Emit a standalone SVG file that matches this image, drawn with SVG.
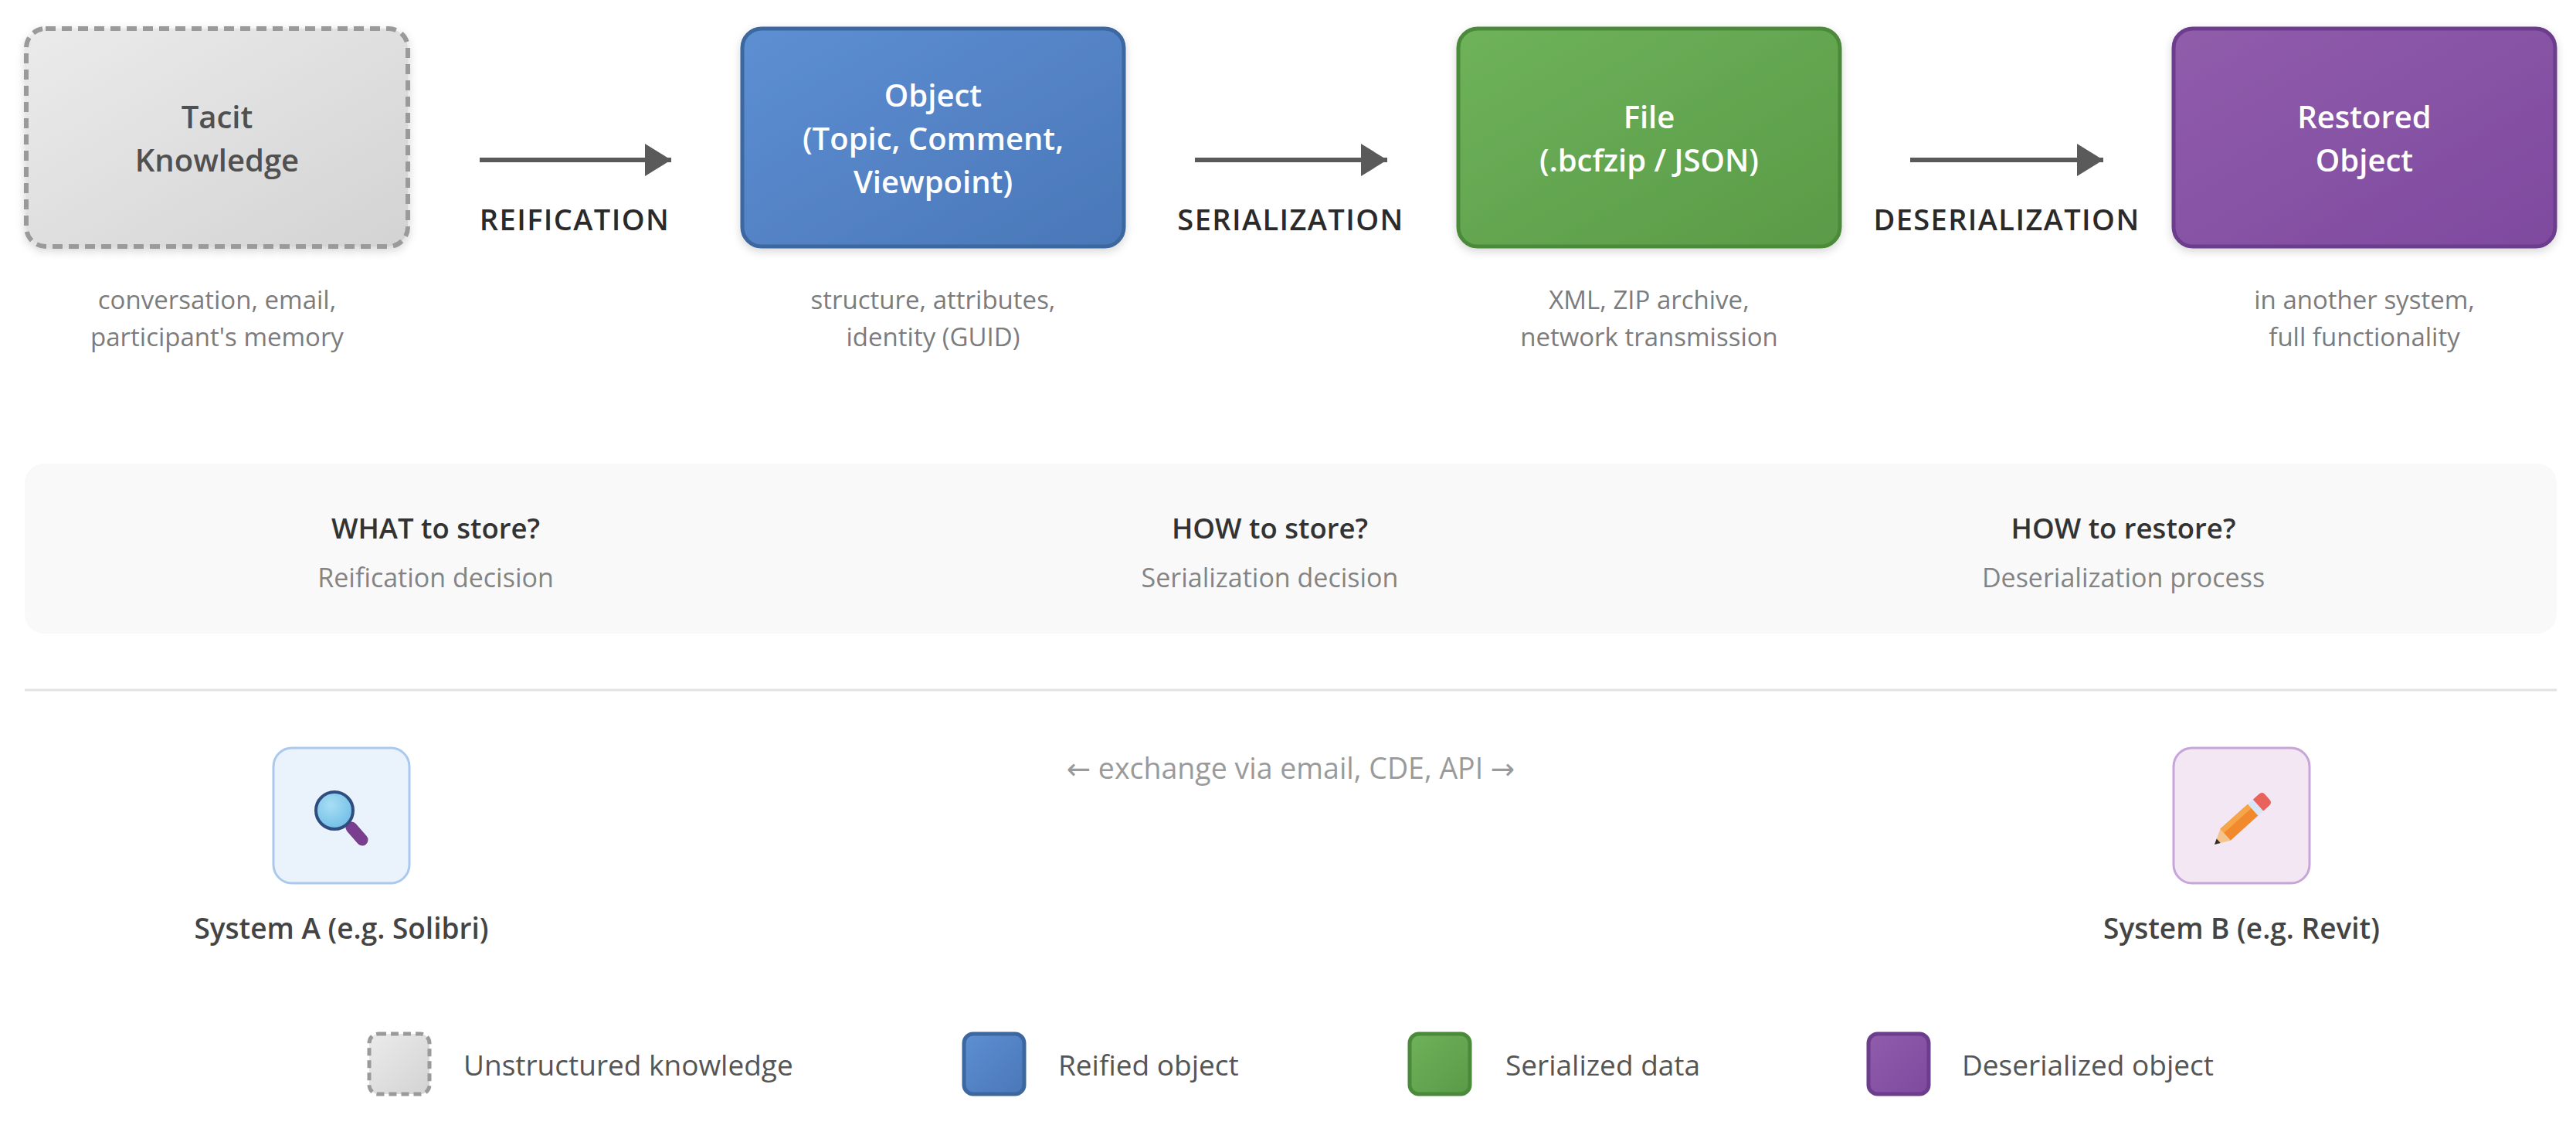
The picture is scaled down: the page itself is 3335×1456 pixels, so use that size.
<svg xmlns="http://www.w3.org/2000/svg" width="3335" height="1456" viewBox="0 0 3335 1456">
<defs>
  <linearGradient id="gGray" x1="0" y1="0" x2="1" y2="1">
    <stop offset="0" stop-color="#ebebeb"/><stop offset="1" stop-color="#d3d3d3"/>
  </linearGradient>
  <linearGradient id="gBlue" x1="0" y1="0" x2="1" y2="1">
    <stop offset="0" stop-color="#5d8fd3"/><stop offset="1" stop-color="#4a77b8"/>
  </linearGradient>
  <linearGradient id="gGreen" x1="0" y1="0" x2="1" y2="1">
    <stop offset="0" stop-color="#6eb25a"/><stop offset="1" stop-color="#5a9a47"/>
  </linearGradient>
  <linearGradient id="gPurple" x1="0" y1="0" x2="1" y2="1">
    <stop offset="0" stop-color="#905cab"/><stop offset="1" stop-color="#7e4a9f"/>
  </linearGradient>
  <radialGradient id="gLens" cx="0.4" cy="0.35" r="0.7">
    <stop offset="0" stop-color="#a8def5"/><stop offset="1" stop-color="#6fbde6"/>
  </radialGradient>
  <filter id="shadow" x="-10%" y="-10%" width="120%" height="130%">
    <feDropShadow dx="0" dy="4" stdDeviation="6" flood-color="#000" flood-opacity="0.16"/>
  </filter>
  <marker id="arrowHead" viewBox="0 0 34 42" refX="34" refY="21" markerWidth="34" markerHeight="42" markerUnits="userSpaceOnUse" orient="auto">
    <path d="M0,0 L34,21 L0,42 Z" fill="#5a5a5a"/>
  </marker>
</defs>
<style>
  text { font-family: "Open Sans", "Noto Sans", "DejaVu Sans", sans-serif; }
  .title { font-size: 40px; font-weight: 600; text-anchor: middle; }
  .white { fill: #ffffff; }
  .caption { font-size: 33px; fill: #7c7c7c; text-anchor: middle; }
  .step { font-size: 38px; font-weight: 600; fill: #2a2a2a; text-anchor: middle; letter-spacing: 1.4px; }
  .qtitle { font-size: 36.5px; font-weight: 600; fill: #333333; text-anchor: middle; }
  .qsub { font-size: 34px; fill: #848484; text-anchor: middle; }
  .sys { font-size: 37px; font-weight: 600; fill: #444444; text-anchor: middle; }
  .exch { font-size: 37.5px; fill: #9a9a9a; text-anchor: middle; }
  .leg { font-size: 37px; fill: #555555; }
  .conn { stroke: #5a5a5a; stroke-width: 6; fill: none; }
</style>
<rect width="3335" height="1456" fill="#ffffff"/>

<g id="node-tacit">
  <rect x="34" y="37" width="494" height="282" rx="25" fill="url(#gGray)" stroke="#9a9a9a" stroke-width="6" stroke-dasharray="13 8" filter="url(#shadow)"/>
  <text class="title" x="281" y="166" fill="#505050">Tacit</text>
  <text class="title" x="281" y="222" fill="#505050">Knowledge</text>
  <text class="caption" x="281" y="400">conversation, email,</text>
  <text class="caption" x="281" y="448">participant's memory</text>
</g>

<g id="node-object">
  <rect x="961" y="37" width="494" height="282" rx="25" fill="url(#gBlue)" stroke="#3c679f" stroke-width="5" filter="url(#shadow)"/>
  <text class="title white" x="1208" y="138">Object</text>
  <text class="title white" x="1208" y="194">(Topic, Comment,</text>
  <text class="title white" x="1208" y="250">Viewpoint)</text>
  <text class="caption" x="1208" y="400">structure, attributes,</text>
  <text class="caption" x="1208" y="448">identity (GUID)</text>
</g>

<g id="node-file">
  <rect x="1888" y="37" width="494" height="282" rx="25" fill="url(#gGreen)" stroke="#4b8a3b" stroke-width="5" filter="url(#shadow)"/>
  <text class="title white" x="2135" y="166">File</text>
  <text class="title white" x="2135" y="222">(.bcfzip / JSON)</text>
  <text class="caption" x="2135" y="400">XML, ZIP archive,</text>
  <text class="caption" x="2135" y="448">network transmission</text>
</g>

<g id="node-restored">
  <rect x="2814" y="37" width="494" height="282" rx="25" fill="url(#gPurple)" stroke="#6c3d8c" stroke-width="5" filter="url(#shadow)"/>
  <text class="title white" x="3061" y="166">Restored</text>
  <text class="title white" x="3061" y="222">Object</text>
  <text class="caption" x="3061" y="400">in another system,</text>
  <text class="caption" x="3061" y="448">full functionality</text>
</g>

<g id="connectors">
  <line class="conn" x1="621" y1="207" x2="869" y2="207" marker-end="url(#arrowHead)"/>
  <text class="step" x="744" y="298">REIFICATION</text>
  <line class="conn" x1="1547" y1="207" x2="1796" y2="207" marker-end="url(#arrowHead)"/>
  <text class="step" x="1671" y="298">SERIALIZATION</text>
  <line class="conn" x1="2473" y1="207" x2="2723" y2="207" marker-end="url(#arrowHead)"/>
  <text class="step" x="2598" y="298">DESERIALIZATION</text>
</g>

<g id="decision-panel">
  <rect x="32" y="600" width="3278" height="220" rx="25" fill="#f9f9f9"/>
  <text class="qtitle" x="564" y="697">WHAT to store?</text>
  <text class="qsub" x="564" y="760">Reification decision</text>
  <text class="qtitle" x="1644" y="697">HOW to store?</text>
  <text class="qsub" x="1644" y="760">Serialization decision</text>
  <text class="qtitle" x="2749" y="697">HOW to restore?</text>
  <text class="qsub" x="2749" y="760">Deserialization process</text>
</g>

<g id="separator">
  <line x1="32" y1="893" x2="3310" y2="893" stroke="#e2e2e2" stroke-width="3"/>
</g>

<g id="system-a">
  <rect x="354" y="968" width="176" height="175" rx="24" fill="#eaf3fc" stroke="#a9c9ee" stroke-width="3"/>
  <line x1="455" y1="1071" x2="469" y2="1087" stroke="#7a3e8e" stroke-width="15" stroke-linecap="round"/>
  <circle cx="433" cy="1049" r="24" fill="url(#gLens)" stroke="#2f4d7e" stroke-width="4"/>
  <text class="sys" x="442" y="1215">System A (e.g. Solibri)</text>
</g>

<g id="exchange">
  <text class="exch" x="1671" y="1008">← exchange via email, CDE, API →</text>
</g>

<g id="system-b">
  <rect x="2814" y="968" width="176" height="175" rx="24" fill="#f3e7f4" stroke="#c7a5d8" stroke-width="3"/>
  <g transform="translate(2867,1093) rotate(-42)">
    <polygon points="0,0 19,-10 19,10" fill="#f4c48c"/>
    <polygon points="0,0 7,-3.7 7,3.7" fill="#2f2f2f"/>
    <rect x="19" y="-10" width="48" height="20" fill="#f08a2c"/>
    <rect x="19" y="-10" width="48" height="7" fill="#f7a54a"/>
    <rect x="67" y="-10" width="9" height="20" fill="#d7e6f4"/>
    <path d="M76,-10 H86 Q92,-10 92,-4 V4 Q92,10 86,10 H76 Z" fill="#e8635c"/>
  </g>
  <text class="sys" x="2902" y="1215">System B (e.g. Revit)</text>
</g>

<g id="legend">
  <rect x="478" y="1338" width="78" height="78" rx="12" fill="url(#gGray)" stroke="#9a9a9a" stroke-width="5" stroke-dasharray="10 6"/>
  <text class="leg" x="600" y="1392">Unstructured knowledge</text>
  <rect x="1248" y="1338" width="78" height="78" rx="12" fill="url(#gBlue)" stroke="#3c679f" stroke-width="5"/>
  <text class="leg" x="1370" y="1392">Reified object</text>
  <rect x="1825" y="1338" width="78" height="78" rx="12" fill="url(#gGreen)" stroke="#4b8a3b" stroke-width="5"/>
  <text class="leg" x="1949" y="1392">Serialized data</text>
  <rect x="2419" y="1338" width="78" height="78" rx="12" fill="url(#gPurple)" stroke="#6c3d8c" stroke-width="5"/>
  <text class="leg" x="2540" y="1392">Deserialized object</text>
</g>
</svg>
